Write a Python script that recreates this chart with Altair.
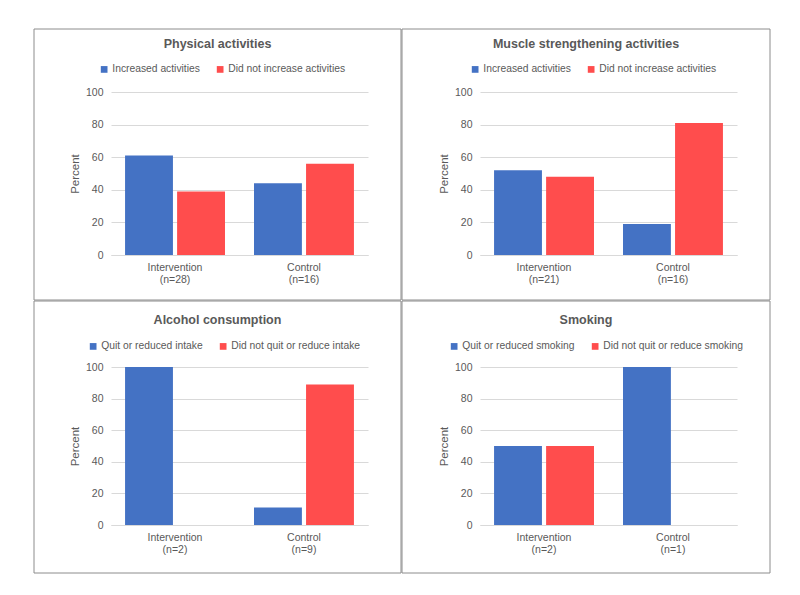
import altair as alt
import pandas as pd

BLUE = "#4472C4"
RED = "#FF4D4D"
TXT = "#595959"
FONT = "Liberation Sans"

# ---- data ----
titles = ["Physical activities", "Muscle strengthening activities",
          "Alcohol consumption", "Smoking"]
groups_pa = ["Intervention\n(n=28)", "Control\n(n=16)"]
groups_ms = ["Intervention\n(n=21)", "Control\n(n=16)"]
groups_al = ["Intervention\n(n=2)", "Control\n(n=9)"]
groups_sm = ["Intervention\n(n=2)", "Control\n(n=1)"]
series_act = ["Increased activities", "Did not increase activities"]
series_al = ["Quit or reduced intake", "Did not quit or reduce intake"]
series_sm = ["Quit or reduced smoking", "Did not quit or reduce smoking"]
pa_a = [61, 44]
pa_b = [39, 56]
ms_a = [52, 19]
ms_b = [48, 81]
al_a = [100, 11]
al_b = [0, 89]
sm_a = [50, 100]
sm_b = [50, 0]
y_ticks = [0, 20, 40, 60, 80, 100]

W = 257


def panel(title, groups, series, va, vb, H, rtop, rbot, rleft, rright,
          legend_x, legend_y, title_y):
    df = pd.DataFrame({
        "group": groups * 2,
        "series": [series[0]] * len(groups) + [series[1]] * len(groups),
        "value": va + vb,
    })
    bars = alt.Chart(df).mark_bar().encode(
        x=alt.X("group:N", sort=groups, title=None,
                scale=alt.Scale(paddingInner=0.225, paddingOuter=0.109),
                axis=alt.Axis(labelAngle=0, ticks=False, domain=True,
                              domainColor="#d9d9d9", labelPadding=7,
                              labelFontSize=10.5, labelColor=TXT,
                              labelFont=FONT, labelLineHeight=12,
                              labelExpr="split(datum.label, '\\n')")),
        xOffset=alt.XOffset("series:N", sort=series,
                            scale=alt.Scale(paddingInner=0.08, paddingOuter=0)),
        y=alt.Y("value:Q", title="Percent",
                scale=alt.Scale(domain=[0, 100]),
                axis=alt.Axis(values=y_ticks, ticks=False, domain=False,
                              gridColor="#d9d9d9", labelPadding=8,
                              labelFontSize=10.5, labelColor=TXT,
                              labelFont=FONT, titleFont=FONT,
                              titleFontSize=11.5, titleFontWeight="normal",
                              titleColor=TXT, titlePadding=5)),
        color=alt.Color("series:N",
                        scale=alt.Scale(domain=series, range=[BLUE, RED]),
                        legend=alt.Legend(orient="none", legendX=legend_x,
                                          legendY=legend_y,
                                          direction="horizontal", title=None,
                                          symbolType="square", symbolSize=45,
                                          symbolStrokeWidth=0,
                                          labelFontSize=10.3, labelColor=TXT,
                                          labelFont=FONT, labelOffset=3,
                                          columnPadding=15)),
    )
    one = pd.DataFrame({"t": [title]})
    border = alt.Chart(one).mark_rect(
        filled=False, stroke="#8c8c8c", strokeWidth=1
    ).encode(
        x=alt.value(rleft), x2=alt.value(rright),
        y=alt.value(rtop), y2=alt.value(rbot),
    )
    head = alt.Chart(one).mark_text(
        font=FONT, fontSize=12.5, fontWeight="bold", color=TXT,
        align="center", baseline="alphabetic"
    ).encode(
        text="t:N",
        x=alt.value((rleft + rright) / 2), y=alt.value(title_y),
    )
    return alt.layer(bars, border, head).properties(width=W, height=H)


p1 = panel(titles[0], groups_pa, series_act, pa_a, pa_b, 163, -63, 208, -77, 290, -12, -28, -44)
p2 = panel(titles[1], groups_ms, series_act, ms_a, ms_b, 163, -63, 208, -78, 290, -10, -28, -44)
p3 = panel(titles[2], groups_al, series_al, al_a, al_b, 158, -66, 206, -77, 290, -23, -26, -43)
p4 = panel(titles[3], groups_sm, series_sm, sm_a, sm_b, 158, -66, 206, -78, 290, -31, -26, -43)

row1 = alt.hconcat(p1, p2, spacing=-1).resolve_scale(color="independent", xOffset="independent")
row2 = alt.hconcat(p3, p4, spacing=-1).resolve_scale(color="independent", xOffset="independent")
chart = alt.vconcat(row1, row2, spacing=-1).resolve_scale(
    color="independent", xOffset="independent"
).properties(
    padding={"left": 25, "top": 20, "right": 5, "bottom": 5},
    background="white",
).configure_view(stroke=None)

chart.save("out.html", embed_options={"renderer": "svg", "actions": False})
